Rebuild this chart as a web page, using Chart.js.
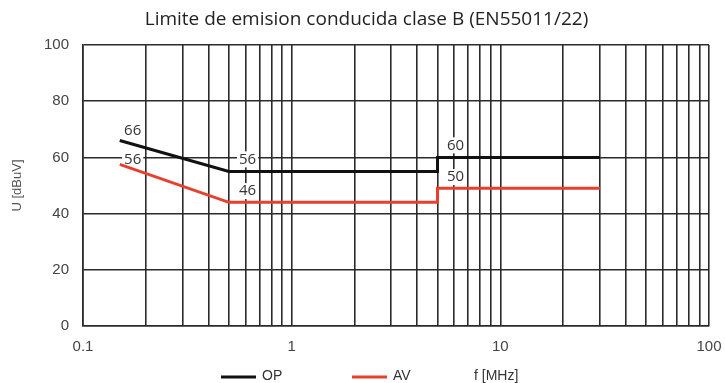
<!DOCTYPE html>
<html>
<head>
<meta charset="utf-8">
<script src="https://cdn.jsdelivr.net/npm/chart.js@4/dist/chart.umd.min.js"></script>
<style>
  html, body { margin: 0; padding: 0; background: #fff; }
</style>
</head>
<body>
<canvas id="myChart" width="725" height="383"></canvas>
<script>
// limit lines (frequency in MHz, level in dBuV)
const freqs = [0.15, 0.5, 5, 5, 30];
const opValues = [66, 55, 55, 60, 60];
const avValues = [57.5, 44, 44, 49, 49];

// grid / ticks
const xGrid = [0.1, 0.2, 0.3, 0.4, 0.5, 0.6, 0.7, 0.8, 0.9,
  1, 2, 3, 4, 5, 6, 7, 8, 9,
  10, 20, 30, 40, 50, 60, 70, 80, 90, 100];
const xLabels = [0.1, 1, 10, 100];
const yTicks = [0, 20, 40, 60, 80, 100];

// value notes on the lines
const noteText = ['66', '56', '56', '46', '60', '50'];
const noteX = [0.173, 0.173, 0.615, 0.615, 6.1, 6.1];
const noteY = [69.6, 59, 59.3, 48, 64.3, 53];

const gridColor = '#2b2b2b';

const toPoints = (xs, ys) => xs.map((x, i) => ({x: x, y: ys[i]}));

// white-boxed labels, drawn over the grid but under the lines
const notesPlugin = {
  id: 'notes',
  beforeDatasetsDraw(chart) {
    const ctx = chart.ctx;
    const xs = chart.scales.x, ys = chart.scales.y;
    ctx.save();
    ctx.font = '15px "Open Sans"';
    ctx.textAlign = 'center';
    ctx.textBaseline = 'middle';
    noteText.forEach((t, i) => {
      const px = xs.getPixelForValue(noteX[i]);
      const py = ys.getPixelForValue(noteY[i]);
      const w = ctx.measureText(t).width;
      ctx.fillStyle = '#fff';
      ctx.fillRect(px - w / 2 - 2, py - 8, w + 4, 16);
      ctx.fillStyle = '#333';
      ctx.fillText(t, px, py);
    });
    ctx.restore();
  }
};

// legend row with the axis name at its end
const legendPlugin = {
  id: 'bottomLegend',
  afterDraw(chart) {
    const ctx = chart.ctx;
    const y = 377;
    ctx.save();
    ctx.font = '14px "Liberation Sans"';
    ctx.textBaseline = 'middle';
    ctx.lineWidth = 3;
    const items = [[221, chart.data.datasets[0]], [352, chart.data.datasets[1]]];
    items.forEach(([x, ds]) => {
      ctx.strokeStyle = ds.borderColor;
      ctx.beginPath();
      ctx.moveTo(x, y);
      ctx.lineTo(x + 35, y);
      ctx.stroke();
      ctx.fillStyle = '#333';
      ctx.fillText(ds.label, x + 41, y - 1);
    });
    ctx.fillText('f [MHz]', 474, y - 1);
    ctx.restore();
  }
};

const data = {
  datasets: [{
    label: 'OP',
    data: toPoints(freqs, opValues),
    borderColor: '#111',
    borderWidth: 3,
    pointRadius: 0,
    tension: 0
  }, {
    label: 'AV',
    data: toPoints(freqs, avValues),
    borderColor: '#e8402f',
    borderWidth: 3,
    pointRadius: 0,
    tension: 0
  }]
};

const config = {
  type: 'line',
  data: data,
  options: {
    responsive: false,
    animation: false,
    layout: {
      padding: {left: 8, right: 0, top: 0, bottom: 26}
    },
    plugins: {
      legend: { display: false },
      tooltip: { enabled: false },
      title: {
        display: true,
        text: 'Limite de emision conducida clase B (EN55011/22)',
        color: '#222',
        font: { family: 'Open Sans', size: 19, weight: 'normal' },
        padding: { top: 8, bottom: 14.2 }
      }
    },
    scales: {
      x: {
        type: 'logarithmic',
        min: 0.1,
        max: 100,
        afterBuildTicks: s => { s.ticks = xGrid.map(v => ({value: v})); },
        afterFit: s => { s.height = 31; s.paddingRight = 16; },
        grid: { color: gridColor, lineWidth: 1.6, drawTicks: false },
        border: { color: gridColor, width: 1.6 },
        ticks: {
          autoSkip: false,
          maxRotation: 0,
          padding: 12,
          color: '#444',
          font: { family: 'Liberation Sans', size: 15 },
          callback: v => xLabels.includes(v) ? String(v) : ''
        }
      },
      y: {
        min: 0,
        max: 100,
        afterBuildTicks: s => { s.ticks = yTicks.map(v => ({value: v})); },
        afterFit: s => { s.width = 75; },
        grid: { color: gridColor, lineWidth: 1.6, drawTicks: false },
        border: { color: gridColor, width: 1.6 },
        ticks: {
          padding: 14,
          color: '#444',
          font: { family: 'Liberation Sans', size: 15 }
        },
        title: {
          display: true,
          text: 'U [dBuV]',
          color: '#555',
          font: { family: 'Liberation Sans', size: 13 },
          padding: { top: 2, bottom: 0 }
        }
      }
    }
  },
  plugins: [notesPlugin, legendPlugin]
};

const myChart = new Chart(document.getElementById('myChart'), config);
</script>
</body>
</html>
